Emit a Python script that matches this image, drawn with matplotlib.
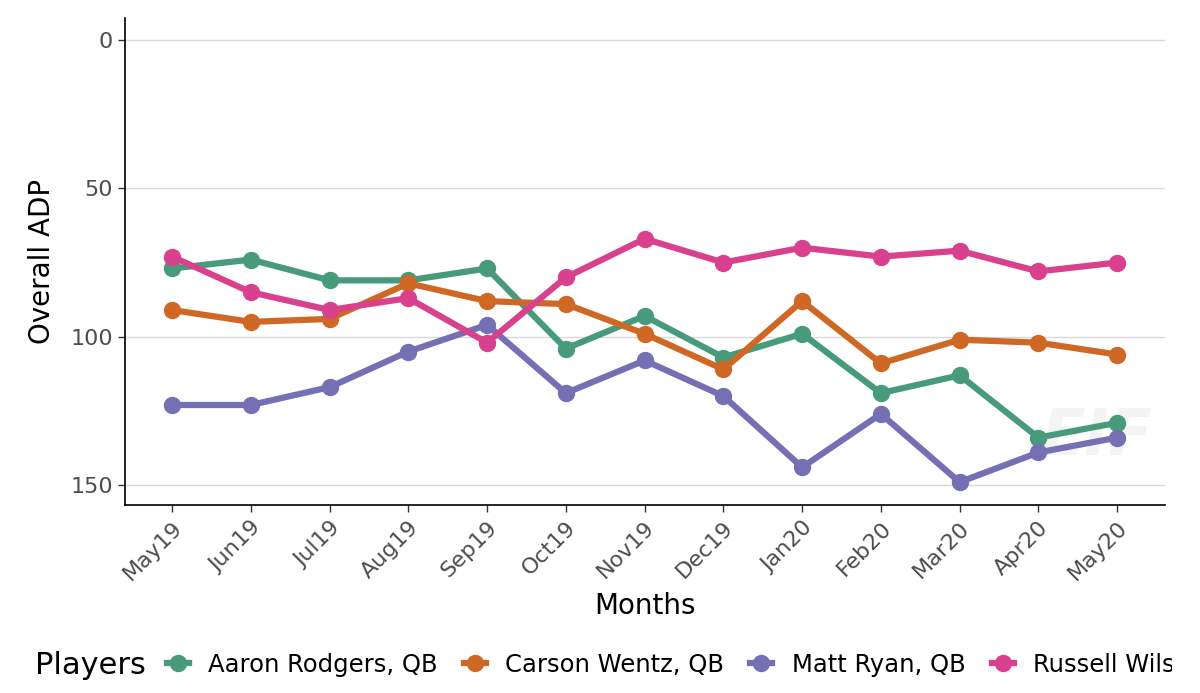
import matplotlib
matplotlib.use("Agg")
import matplotlib.pyplot as plt
from matplotlib.lines import Line2D
from matplotlib.transforms import Bbox, TransformedBbox

months = ["May19", "Jun19", "Jul19", "Aug19", "Sep19", "Oct19", "Nov19",
          "Dec19", "Jan20", "Feb20", "Mar20", "Apr20", "May20"]
aaron_rodgers = [77, 74, 81, 81, 77, 104, 93, 107, 99, 119, 113, 134, 129]
carson_wentz = [91, 95, 94, 82, 88, 89, 99, 111, 88, 109, 101, 102, 106]
matt_ryan = [123, 123, 117, 105, 96, 119, 108, 120, 144, 126, 149, 139, 134]
russell_wilson = [73, 85, 91, 87, 102, 80, 67, 75, 70, 73, 71, 78, 75]
players = ["Aaron Rodgers, QB", "Carson Wentz, QB", "Matt Ryan, QB", "Russell Wilson, QB"]
colors = ["#479B7B", "#CF6824", "#7470B3", "#D9408D"]
series = [aaron_rodgers, carson_wentz, matt_ryan, russell_wilson]

fig = plt.figure(figsize=(12, 6.93), dpi=100)
ax = fig.add_axes([0.104, 0.2713, 0.867, 0.7027])

x = list(range(len(months)))
for vals, c in zip(series, colors):
    ax.plot(x, vals, color=c, lw=4.5, marker="o", ms=11.5,
            solid_capstyle="butt", zorder=3)

ax.set_ylim(156.7, -7.4)
ax.set_xlim(-0.6, 12.61)
ax.set_yticks([0, 50, 100, 150])
ax.set_xticks(x)
ax.set_xticklabels(months, rotation=45, ha="right", rotation_mode="anchor")
ax.tick_params(axis="both", labelsize=16, labelcolor="#4D4D4D", color="#333333",
               length=5, width=1)
ax.tick_params(axis="x", pad=4)
ax.grid(axis="y", color="#D9D9D9", lw=1, zorder=0)
ax.set_axisbelow(True)
for s in ["top", "right"]:
    ax.spines[s].set_visible(False)
for s in ["left", "bottom"]:
    ax.spines[s].set_color("black")
    ax.spines[s].set_linewidth(1.2)
ax.set_xlabel("Months", fontsize=20, labelpad=6)
ax.set_ylabel("Overall ADP", fontsize=20, labelpad=10)

ax.text(0.935, 0.14, "EIF", transform=ax.transAxes, fontsize=46, fontweight="bold",
        fontstyle="italic", color="#F4F4F4", ha="center", va="center", zorder=1)

fig.text(35/1200, 1 - 665/693, "Players", fontsize=22, va="center", ha="left")
handles = [Line2D([0], [0], color=c, lw=4.5, marker="o", ms=11.5) for c in colors]
leg = fig.legend(handles, players, loc="center left", bbox_to_anchor=(157/1200, 1 - 665/693),
                 ncol=4, frameon=False, fontsize=17.5, handlelength=0.9, handletextpad=0.8,
                 columnspacing=1.08, borderaxespad=0)
clip = TransformedBbox(Bbox([[0, 0], [1172/1200, 1]]), fig.transFigure)
for t in leg.get_texts():
    t.set_clip_box(clip)
    t.set_clip_on(True)

fig.savefig("out.png", dpi=100)
